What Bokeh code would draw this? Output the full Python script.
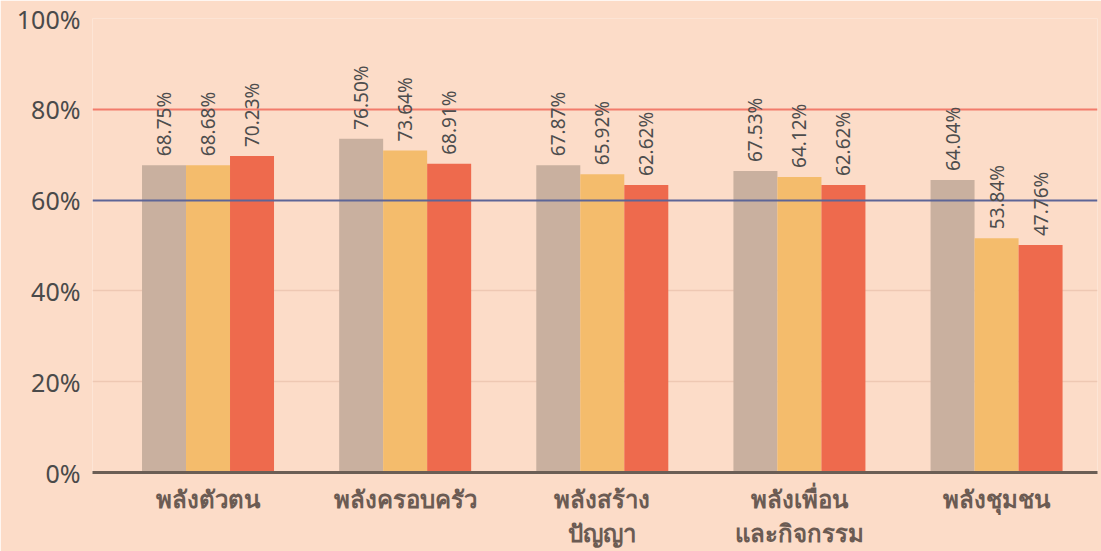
from bokeh.plotting import figure
from bokeh.models import FixedTicker, PrintfTickFormatter, Range1d, ColumnDataSource
from bokeh.core.properties import value
from bokeh.embed import file_html
from bokeh.resources import INLINE

# ---- data ----
categories = ["พลังตัวตน", "พลังครอบครัว", "พลังสร้าง\nปัญญา", "พลังเพื่อน\nและกิจกรรม", "พลังชุมชน"]
series_a = [67.7, 73.5, 67.7, 66.4, 64.4]
series_b = [67.7, 70.9, 65.7, 65.1, 51.6]
series_c = [69.7, 68.0, 63.3, 63.3, 50.1]
labels_a = ["68.75%", "76.50%", "67.87%", "67.53%", "64.04%"]
labels_b = ["68.68%", "73.64%", "65.92%", "64.12%", "53.84%"]
labels_c = ["70.23%", "68.91%", "62.62%", "62.62%", "47.76%"]
ref_levels = [60, 80]
y_ticks = [0, 20, 40, 60, 80, 100]

# ---- style ----
BG = "#FCDCC8"
colors = ["#C9B09F", "#F4BC6C", "#EE6A4D"]
ref_colors = ["#5D6597", "#F27B6B"]
FONT = "Noto Sans"
bar_w = 0.2232

p = figure(width=1101, height=551, output_backend="svg", toolbar_location=None,
           x_range=Range1d(-0.586, 4.512), y_range=Range1d(0, 100),
           min_border_left=92, min_border_right=4, min_border_top=18, min_border_bottom=78)
p.background_fill_color = BG
p.border_fill_color = BG
p.outline_line_color = None

xs = list(range(len(categories)))
series = [series_a, series_b, series_c]
labels = [labels_a, labels_b, labels_c]
offsets = [-bar_w, 0.0, bar_w]

for vals, col, off in zip(series, colors, offsets):
    p.vbar(x=[x + off for x in xs], top=vals, width=bar_w, bottom=0,
           fill_color=col, line_color=None)

p.hspan(y=ref_levels, line_color=ref_colors, line_width=2)

for vals, labs, off in zip(series, labels, offsets):
    src = ColumnDataSource(dict(x=[x + off for x in xs], y=vals, t=labs))
    p.text(x="x", y="y", text="t", source=src, angle=1.5708,
           text_align="left", text_baseline="middle", y_offset=-9, x_offset=0,
           text_font=value(FONT), text_font_size="19px", text_color="#4d4d4d")

# grid
p.xgrid.visible = False
p.ygrid.ticker = FixedTicker(ticks=[20, 40, 100])
p.ygrid.grid_line_color = "#EEC8B3"
p.ygrid.grid_line_width = 1.5

# y axis
p.yaxis.ticker = FixedTicker(ticks=y_ticks)
p.yaxis.formatter = PrintfTickFormatter(format="%d%%")
p.yaxis.axis_line_color = None
p.yaxis.major_tick_line_color = None
p.yaxis.minor_tick_line_color = None
p.yaxis.major_tick_out = 0
p.yaxis.major_label_standoff = 12
p.yaxis.major_label_text_font = FONT
p.yaxis.major_label_text_font_size = "25px"
p.yaxis.major_label_text_color = "#4a4a4a"

# x axis
p.xaxis.ticker = FixedTicker(ticks=xs)
p.xaxis.major_label_overrides = {i: c for i, c in zip(xs, categories)}
p.xaxis.axis_line_color = "#6B5E55"
p.xaxis.axis_line_width = 3
p.xaxis.major_tick_line_color = None
p.xaxis.minor_tick_line_color = None
p.xaxis.major_tick_out = 0
p.xaxis.major_label_standoff = 9
p.xaxis.major_label_text_font = FONT
p.xaxis.major_label_text_font_size = "24px"
p.xaxis.major_label_text_font_style = "bold"
p.xaxis.major_label_text_line_height = 1.04
p.xaxis.major_label_text_color = "#6B5B53"

open("out.html", "w").write(file_html(p, INLINE))
